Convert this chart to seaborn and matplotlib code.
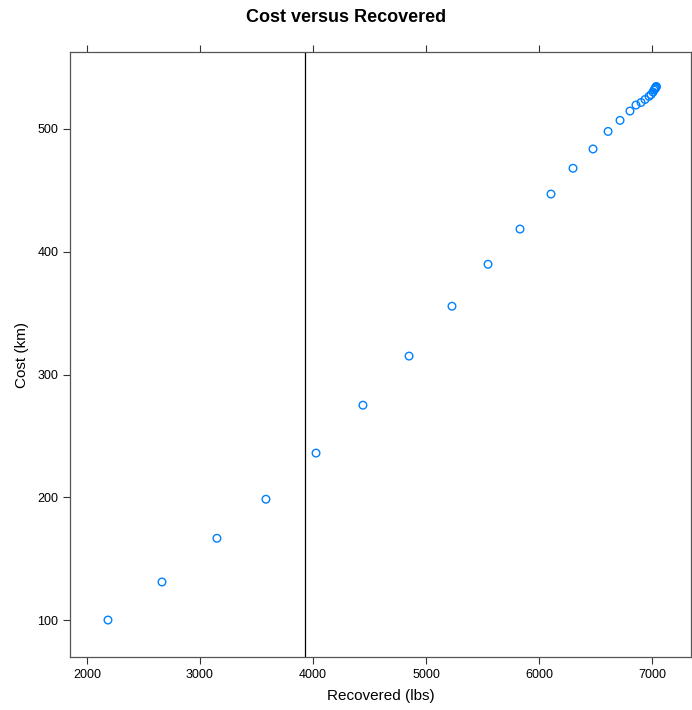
import matplotlib
matplotlib.use("Agg")
import matplotlib.pyplot as plt
import seaborn as sns
import pandas as pd

recovered = [2186, 2664, 3150, 3584, 4027, 4442, 4850, 5230, 5549, 5832, 6106, 6301,
             6478, 6611, 6717, 6805, 6858, 6903, 6938, 6973, 6991, 7009, 7018, 7027,
             7030, 7035, 7037, 7038]
cost = [100, 131, 166.6, 198.4, 236, 275, 315, 355.6, 389.8, 418.5, 447, 468,
        483.7, 498, 507, 514.6, 519.5, 521.6, 524, 526.5, 528, 530, 531.8, 532.6,
        533.4, 534, 534.3, 534.6]
vline_x = 3929
x_ticks = [2000, 3000, 4000, 5000, 6000, 7000]
y_ticks = [100, 200, 300, 400, 500]

df = pd.DataFrame({"Recovered": recovered, "Cost": cost})

sns.set_style("white")
plt.rcParams['font.family'] = ['Liberation Sans', 'DejaVu Sans']
plt.rcParams['text.color'] = 'black'
plt.rcParams['axes.labelcolor'] = 'black'
plt.rcParams['xtick.color'] = 'black'
plt.rcParams['ytick.color'] = 'black'

fig = plt.figure(figsize=(6.92, 7.10), dpi=100)
ax = fig.add_axes([70/692, 1-657/710, (691-70)/692, (657-52)/710])

sns.scatterplot(data=df, x="Recovered", y="Cost", ax=ax, marker="o", s=30,
                facecolors="none", edgecolor="#0080ff", linewidth=1.0, legend=False)
ax.axvline(vline_x, color="black", linewidth=0.9)

ax.set_xlim(1850, 7345)
ax.set_ylim(69.9, 562.7)
ax.set_xticks(x_ticks)
ax.set_yticks(y_ticks)
ax.tick_params(axis="x", which="both", top=True, bottom=True, labeltop=False,
               direction="out", length=5, width=0.8, color="#333333", labelsize=9,
               labelcolor="black")
ax.tick_params(axis="y", which="both", left=True, right=False, direction="out",
               length=5, width=0.8, color="#333333", labelsize=9, labelcolor="black")
for s in ax.spines.values():
    s.set_color("#555555")
    s.set_linewidth(0.9)

ax.set_xlabel("Recovered (lbs)", fontsize=11, labelpad=6, color="black")
ax.set_ylabel("Cost (km)", fontsize=11, labelpad=6, color="black")
fig.suptitle("Cost versus Recovered", fontsize=13, fontweight="bold", y=0.988,
             color="black")

fig.savefig("out.png", dpi=100)
